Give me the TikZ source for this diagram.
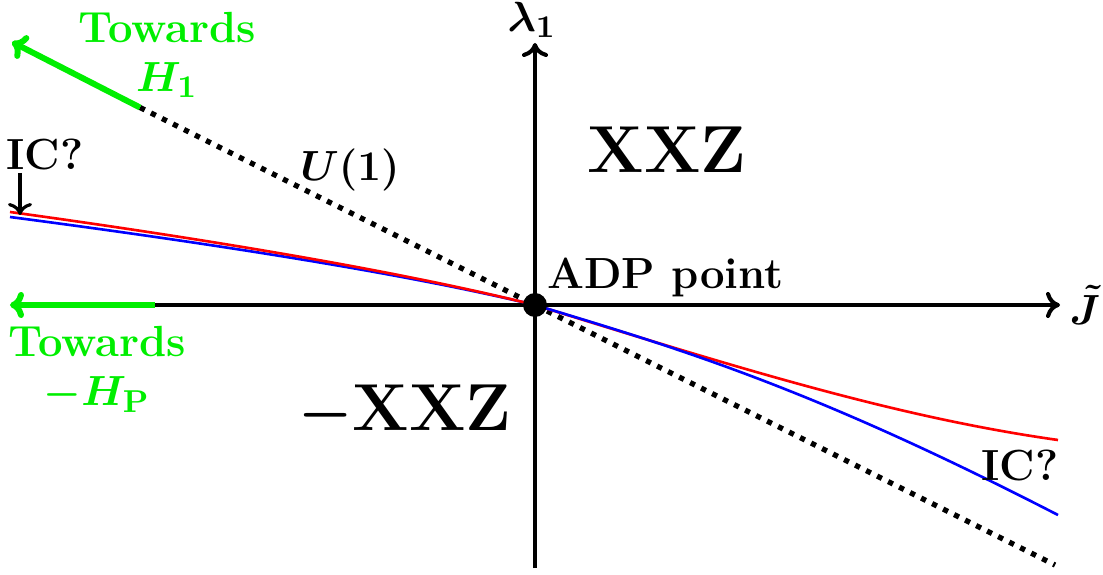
\documentclass[tikz,border=0pt]{standalone}
\usepackage{amsmath,amssymb}
\usepackage{xcolor}
\usepackage{tikz}
\usetikzlibrary{arrows.meta,positioning}
\definecolor{tgreen}{RGB}{0,238,0}

\begin{document}
\begin{tikzpicture}[
  font=\fontsize{12.4}{14}\selectfont\bfseries\boldmath,
  axis/.style={line width=1.15pt},
  arr/.style={-{To[length=1.4mm,width=2.6mm]},line width=1.15pt},
  garr/.style={-{To[length=1.4mm,width=2.6mm]},line width=1.7pt,tgreen},
  lbl/.style={inner sep=1pt,align=center},
  glbl/.style={lbl,text=tgreen},
  big/.style={lbl,font=\fontsize{18.9}{21}\selectfont\bfseries\boldmath},
  flow/.style={line width=0.75pt}]
\useasboundingbox (-5.35,-2.70) rectangle (5.68,3.05);
% axes
\coordinate (o) at (0,0);
\coordinate (xr) at (5.25,0);
\coordinate (xm) at (-3.80,0);
\coordinate (xl) at (-5.25,0);
\coordinate (yb) at (0,-2.63);
\coordinate (yt) at (0,2.62);
\draw[axis] (xm)--(o);
\draw[arr] (o)--(xr);
\draw[arr] (yb)--(yt);
\draw[garr] (xm)--(xl);
\node[lbl] (lam) at (-0.03,2.85) {$\lambda_1$};
\node[lbl,anchor=west,inner sep=0pt] (jt) at (5.34,0) {$\tilde J$};
% U(1) line
\coordinate (ua) at (-3.95,1.975);
\coordinate (ub) at (5.20,-2.60);
\coordinate (ug) at (-5.23,2.63);
\draw[line width=1.5pt,dotted] (ua)--(ub);
\draw[garr] (ua)--(ug);
\node[lbl] (u1) at (-1.85,1.35) {$U(1)$};
% flows
\draw[flow,blue] (-5.25,0.88) .. controls (-3,0.585) and (-1.2,0.29) .. (o);
\draw[flow,red] (-5.25,0.93) .. controls (-3,0.62) and (-1.2,0.30) .. (o);
\draw[flow,red] (o) .. controls (2,-0.62) and (3.6,-1.12) .. (5.23,-1.35);
\draw[flow,blue] (o) .. controls (1.5,-0.45) and (2.8,-0.85) .. (5.23,-2.10);
% fixed point
\fill (o) circle (0.12);
\node[lbl,anchor=south west] (adp) at (0.08,0.04) {ADP point};
% phases
\node[big] (xxz) at (1.32,1.55) {XXZ};
\node[big] (mxxz) at (-1.30,-1.07) {$-$XXZ};
% labels
\node[glbl] (th1) at (-3.68,2.50) {Towards\\$H_1$};
\node[glbl] (thp) at (-4.38,-0.64) {Towards\\$-H_{\mathrm{P}}$};
\node[lbl] (icl) at (-4.90,1.50) {IC?};
\node[lbl] (icr) at (4.85,-1.61) {IC?};
\coordinate (icq) at (-5.15,1.32);
\coordinate (icp) at (-5.15,0.90);
\draw[-{To[length=1.2mm,width=2.4mm]},line width=0.9pt] (icq)--(icp);
\end{tikzpicture}
\end{document}
